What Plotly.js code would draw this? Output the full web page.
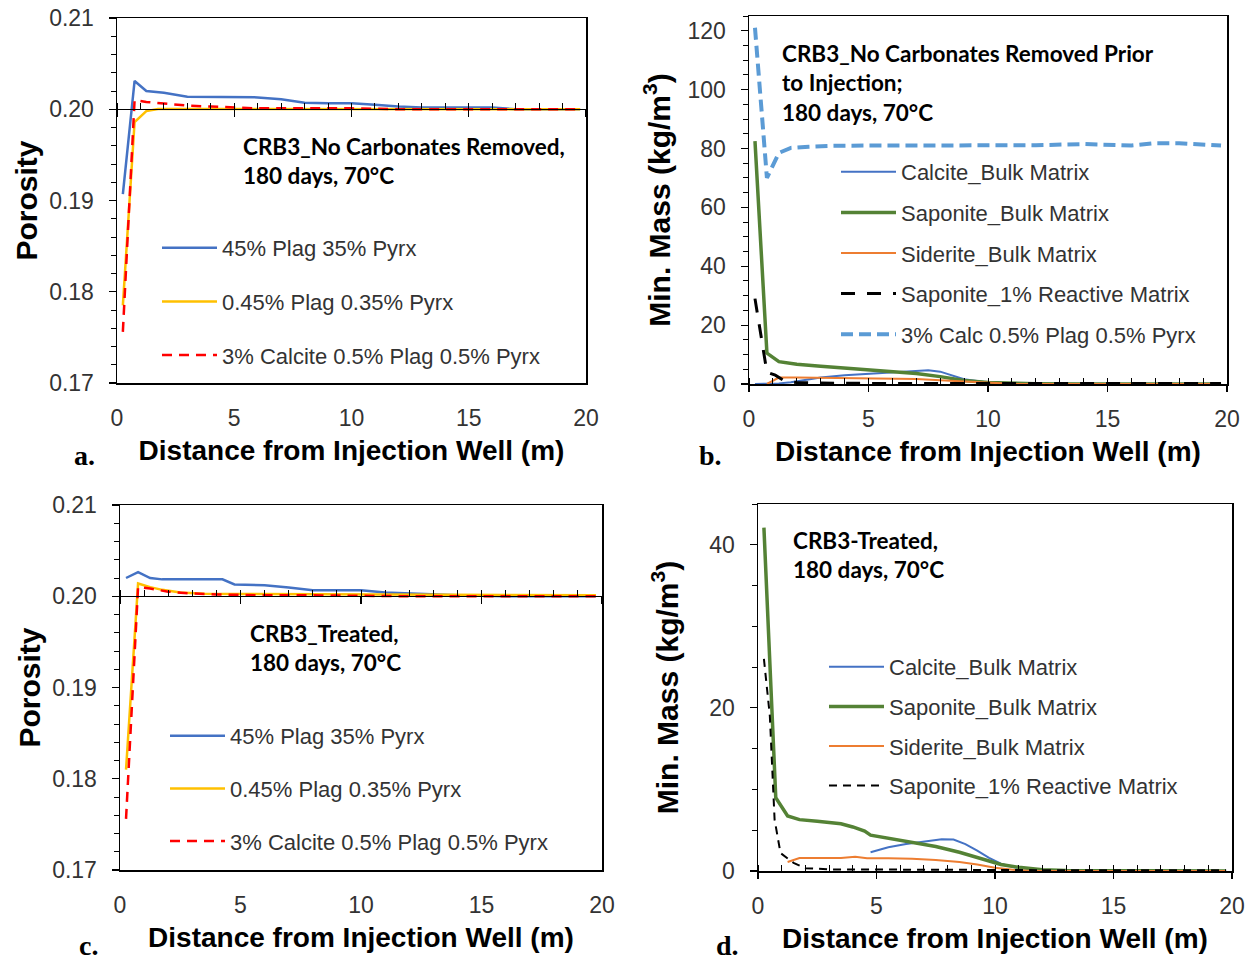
<!DOCTYPE html>
<html>
<head>
<meta charset="utf-8">
<script src="https://cdn.plot.ly/plotly-3.0.1.min.js"></script>
<style>html,body{margin:0;padding:0;background:#fff;}#chart{width:1255px;height:961px;}</style>
</head>
<body>
<div id="chart"></div>
<script>
// ---------- Panel a: porosity, no carbonates removed ----------
const aBlueX   = [0.25, 0.75, 1.25, 2, 3, 4, 5, 6, 7, 8, 9, 10, 11, 12, 13, 14, 15, 16, 17, 18, 19, 19.75];
const aBlueY   = [0.1907, 0.2031, 0.2020, 0.2018, 0.20138, 0.20137, 0.20137, 0.2013, 0.2011, 0.2007, 0.20065, 0.20065, 0.2005, 0.2003, 0.2002, 0.2002, 0.2002, 0.2002, 0.2000, 0.2000, 0.2000, 0.2000];
const aYellowX = [0.25, 0.75, 1.25, 1.75, 2.5, 4, 6, 8, 10, 12, 14, 16, 18, 19.75];
const aYellowY = [0.1785, 0.1986, 0.1998, 0.20002, 0.20003, 0.20002, 0.20001, 0.20001, 0.2000, 0.2000, 0.2000, 0.2000, 0.2000, 0.2000];
const aRedX    = [0.25, 0.75, 1.25, 2, 3, 4, 5, 6, 8, 10, 12, 14, 16, 18, 19.75];
const aRedY    = [0.1756, 0.2010, 0.2008, 0.2006, 0.2004, 0.2003, 0.2002, 0.2001, 0.2001, 0.2001, 0.2000, 0.2000, 0.2000, 0.2000, 0.2000];

// ---------- Panel b: mineral mass, no carbonates removed ----------
const bCalciteX  = [0.25, 0.75, 1.25, 1.75, 2.25, 3, 4, 5, 6, 7, 7.5, 8, 8.5, 9, 10, 11, 12, 14, 16, 18, 19.75];
const bCalciteY  = [0, 0, 0.2, 0.6, 1.2, 2.2, 3.0, 3.5, 4.0, 4.6, 4.7, 4.2, 2.8, 1.6, 0.5, 0.1, 0, 0, 0, 0, 0];
const bSaponiteX = [0.25, 0.75, 1.25, 2, 3, 4, 5, 6, 7, 8, 9, 10, 11, 12, 14, 16, 18, 19.75];
const bSaponiteY = [82.5, 10.5, 7.6, 6.7, 6.0, 5.4, 4.8, 4.2, 3.6, 2.5, 1.2, 0.5, 0.2, 0.1, 0, 0, 0, 0];
const bSideriteX = [0.75, 1.25, 2, 3, 4, 5, 6, 7, 8, 9, 10, 11, 12, 14, 16, 18, 19.75];
const bSideriteY = [0, 2.2, 2.2, 2.1, 2.0, 2.0, 1.9, 1.7, 1.3, 0.8, 0.3, 0.05, 0, 0, 0, 0, 0];
const bSapReactX = [0.25, 0.75, 1.1, 1.5, 2, 3, 5, 8, 12, 16, 19.75];
const bSapReactY = [29, 4, 3, 1.0, 0.5, 0.3, 0.2, 0.2, 0.2, 0.2, 0.2];
const bCalc3X    = [0.25, 0.75, 1.25, 1.75, 2.5, 3.5, 5, 7, 10, 12, 14, 15, 16, 17, 18, 19.75];
const bCalc3Y    = [121, 70, 78.5, 80.2, 80.6, 80.9, 81, 81, 81, 81.1, 81.5, 81.3, 81, 81.8, 81.8, 81];

// ---------- Panel c: porosity, treated ----------
const cBlueX   = [0.25, 0.75, 1.25, 1.75, 2.5, 3.5, 4.25, 4.75, 6, 7, 8, 9, 10, 11, 12, 13, 14, 16, 18, 19.75];
const cBlueY   = [0.2020, 0.20265, 0.2020, 0.20185, 0.20185, 0.20185, 0.20185, 0.2013, 0.2012, 0.20095, 0.20065, 0.20065, 0.20065, 0.2004, 0.2003, 0.2002, 0.2001, 0.2000, 0.2000, 0.2000];
const cYellowX = [0.25, 0.75, 1.25, 1.75, 2.5, 3.5, 5, 8, 12, 16, 19.75];
const cYellowY = [0.1810, 0.2014, 0.2010, 0.2007, 0.2004, 0.20028, 0.20025, 0.20022, 0.2002, 0.2002, 0.2001];
const cRedX    = [0.25, 0.75, 1.25, 2, 3, 4, 6, 8, 12, 16, 19.75];
const cRedY    = [0.1756, 0.2010, 0.20085, 0.2005, 0.2003, 0.2002, 0.2001, 0.2001, 0.2000, 0.2000, 0.2000];

// ---------- Panel d: mineral mass, treated ----------
const dCalciteX  = [4.75, 5.5, 6.25, 7, 7.75, 8.25, 8.75, 9.25, 9.75, 10.25, 10.75, 11.5, 12.5, 13.5, 16, 19.75];
const dCalciteY  = [2.3, 2.9, 3.3, 3.6, 3.9, 3.85, 3.3, 2.5, 1.6, 0.9, 0.5, 0.2, 0.05, 0, 0, 0];
const dSaponiteX = [0.25, 0.75, 1.25, 1.75, 2.5, 3.5, 4.0, 4.5, 4.75, 5.5, 6.5, 7.5, 8.5, 9.5, 10.25, 11, 12, 13, 15, 17, 19.75];
const dSaponiteY = [42.1, 9.0, 6.75, 6.3, 6.1, 5.8, 5.4, 4.9, 4.4, 4.0, 3.5, 3.0, 2.3, 1.4, 0.8, 0.45, 0.15, 0.05, 0.02, 0, 0];
const dSideriteX = [1.25, 1.75, 2.5, 3.5, 4.1, 4.6, 5.5, 6.5, 7.5, 8.5, 9.25, 10, 10.75, 11.5, 13, 16, 19.75];
const dSideriteY = [1.1, 1.6, 1.6, 1.6, 1.75, 1.55, 1.55, 1.5, 1.35, 1.1, 0.8, 0.4, 0.15, 0, 0, 0, 0];
const dSapReactX = [0.25, 0.5, 0.7, 0.95, 1.5, 2.0, 3, 5, 8, 12, 16, 19.75];
const dSapReactY = [26, 19, 6.3, 2.2, 1.0, 0.35, 0.2, 0.2, 0.15, 0.1, 0.1, 0.1];

// ---------- Labels ----------
const porosityNames = ['45% Plag 35% Pyrx', '0.45% Plag 0.35% Pyrx', '3% Calcite 0.5% Plag 0.5% Pyrx'];
const massNames = ['Calcite_Bulk Matrix', 'Saponite_Bulk Matrix', 'Siderite_Bulk Matrix', 'Saponite_1% Reactive Matrix', '3% Calc 0.5% Plag 0.5% Pyrx'];
const xTitle = 'Distance from Injection Well (m)';
const porTitle = 'Porosity';
const massTitle = 'Min. Mass (kg/m<sup>3</sup>)';
const noteA = 'CRB3_No Carbonates Removed,<br>180 days, 70°C';
const noteB = 'CRB3_No Carbonates Removed Prior<br>to Injection;<br>180 days, 70°C';
const noteC = 'CRB3_Treated,<br>180 days, 70°C';
const noteD = 'CRB3-Treated,<br>180 days, 70°C';
const panelLetters = ['a.', 'b.', 'c.', 'd.'];
const porRange = [0.17, 0.21];
const massRangeB = [0, 125];
const massRangeD = [0, 45];
const xRange = [0, 20];

// ---------- Layout helpers (pixel -> paper) ----------
const W = 1255, H = 961;
const fx = p => p / W;
const fy = p => 1 - p / H;
const dom = {
  a: {x: [fx(117), fx(586)], y: [fy(383), fy(18)]},
  b: {x: [fx(749), fx(1227)], y: [fy(384), fy(16)]},
  c: {x: [fx(120), fx(602)], y: [fy(870), fy(505)]},
  d: {x: [fx(758), fx(1232)], y: [fy(871), fy(504)]}
};

const C = {blue: '#4472C4', yellow: '#FFC000', red: '#FF0000', green: '#548235', orange: '#ED7D31', lblue: '#5B9BD5', black: '#000000'};

function ln(x, y, name, color, width, dash, xa, ya, legend, grp) {
  return {x: x, y: y, name: name, type: 'scatter', mode: 'lines', xaxis: xa, yaxis: ya,
    line: {color: color, width: width, dash: dash || 'solid'}, legend: legend, legendgroup: grp, hoverinfo: 'x+y+name'};
}

const traces = [
  ln(aBlueX, aBlueY, porosityNames[0], C.blue, 2.5, 'solid', 'x', 'y', 'legend', 'a1'),
  ln(aYellowX, aYellowY, porosityNames[1], C.yellow, 2.5, 'solid', 'x', 'y', 'legend', 'a2'),
  ln(aRedX, aRedY, porosityNames[2], C.red, 2.5, '10px,7px', 'x', 'y', 'legend', 'a3'),

  ln(bCalciteX, bCalciteY, massNames[0], C.blue, 2, 'solid', 'x2', 'y2', 'legend2', 'b1'),
  ln(bSaponiteX, bSaponiteY, massNames[1], C.green, 3.5, 'solid', 'x2', 'y2', 'legend2', 'b2'),
  ln(bSideriteX, bSideriteY, massNames[2], C.orange, 2, 'solid', 'x2', 'y2', 'legend2', 'b3'),
  ln(bSapReactX, bSapReactY, massNames[3], C.black, 3, '14px,12px', 'x2', 'y2', 'legend2', 'b4'),
  ln(bCalc3X, bCalc3Y, massNames[4], C.lblue, 4, '12px,6px', 'x2', 'y2', 'legend2', 'b5'),

  ln(cBlueX, cBlueY, porosityNames[0], C.blue, 2.5, 'solid', 'x3', 'y3', 'legend3', 'c1'),
  ln(cYellowX, cYellowY, porosityNames[1], C.yellow, 2.5, 'solid', 'x3', 'y3', 'legend3', 'c2'),
  ln(cRedX, cRedY, porosityNames[2], C.red, 2.5, '10px,7px', 'x3', 'y3', 'legend3', 'c3'),

  ln(dCalciteX, dCalciteY, massNames[0], C.blue, 2, 'solid', 'x4', 'y4', 'legend4', 'd1'),
  ln(dSaponiteX, dSaponiteY, massNames[1], C.green, 3.5, 'solid', 'x4', 'y4', 'legend4', 'd2'),
  ln(dSideriteX, dSideriteY, massNames[2], C.orange, 2, 'solid', 'x4', 'y4', 'legend4', 'd3'),
  ln(dSapReactX, dSapReactY, massNames[3], C.black, 2, '8px,6px', 'x4', 'y4', 'legend4', 'd4'),

  // empty carriers for the axes drawn at porosity = 0.20
  {x: [], y: [], type: 'scatter', mode: 'lines', xaxis: 'x5', yaxis: 'y', showlegend: false, hoverinfo: 'skip'},
  {x: [], y: [], type: 'scatter', mode: 'lines', xaxis: 'x6', yaxis: 'y3', showlegend: false, hoverinfo: 'skip'}
];

const tickFont = {family: 'Liberation Sans, Arial, sans-serif', size: 23, color: '#333333'};
const xTitleFont = {family: 'Liberation Sans, Arial, sans-serif', size: 28, color: '#000000', weight: 'bold'};
const yTitleFont = {family: 'Liberation Sans, Arial, sans-serif', size: 30, color: '#000000', weight: 'bold'};
const legFont = {family: 'Liberation Sans, Arial, sans-serif', size: 22, color: '#333333'};
const noteFont = {family: 'Lato, Open Sans, sans-serif', size: 22.5, color: '#000000', weight: 'bold'};
const letterFont = {family: 'Liberation Serif, DejaVu Serif, serif', size: 28, color: '#000000', weight: 'bold'};

function xLabelAxis(d, anchor, withTicks) {
  const ax = {domain: d.x, anchor: anchor, range: xRange, dtick: 5, tick0: 0,
    showline: true, linecolor: '#000', linewidth: 1.5, mirror: true, showgrid: false, zeroline: false,
    tickfont: tickFont, title: {text: xTitle, font: xTitleFont, standoff: 10},
    ticklabelstandoff: 14};
  if (withTicks) {
    ax.ticks = 'outside'; ax.ticklen = 6; ax.tickcolor = '#000'; ax.tickwidth = 1.2;
    ax.minor = {dtick: 1, ticks: 'inside', ticklen: 6, tickcolor: '#000', tickwidth: 1};
    ax.ticklabelstandoff = 8;
  } else {
    ax.ticks = '';
  }
  return ax;
}
function yAxis(d, anchor, range, dtick, mdtick, fmt, title, standoff) {
  return {domain: d.y, anchor: anchor, range: range, dtick: dtick, tick0: 0, tickformat: fmt,
    showline: true, linecolor: '#000', linewidth: 1.5, mirror: true, showgrid: false, zeroline: false,
    ticks: 'outside', ticklen: 7, tickcolor: '#000', tickwidth: 1.2,
    minor: {dtick: mdtick, ticks: 'outside', ticklen: 5, tickcolor: '#000', tickwidth: 1},
    tickfont: tickFont, ticklabelstandoff: 10,
    title: {text: title, font: yTitleFont, standoff: standoff}};
}
function midAxis(d, overlay, level, range) {
  const pos = d.y[0] + (level - range[0]) / (range[1] - range[0]) * (d.y[1] - d.y[0]);
  return {domain: d.x, overlaying: overlay, anchor: 'free', position: pos, range: xRange,
    dtick: 5, tick0: 0, showticklabels: false, showgrid: false, zeroline: false,
    showline: true, linecolor: '#000', linewidth: 1.2,
    ticks: 'outside', ticklen: 7, tickcolor: '#000', tickwidth: 1.2,
    minor: {dtick: 1, ticks: 'inside', ticklen: 6, tickcolor: '#000', tickwidth: 1}};
}

function legendAt(px, py, gap) {
  return {x: fx(px), y: fy(py), xanchor: 'left', yanchor: 'top', bgcolor: 'rgba(0,0,0,0)',
    borderwidth: 0, font: legFont, traceorder: 'grouped', tracegroupgap: gap, itemwidth: 55};
}
function note(text, px, py) {
  return {text: text, x: fx(px), y: fy(py), xref: 'paper', yref: 'paper', xanchor: 'left', yanchor: 'top',
    align: 'left', showarrow: false, font: noteFont};
}
function letter(text, px, py) {
  return {text: text, x: fx(px), y: fy(py), xref: 'paper', yref: 'paper', xanchor: 'center', yanchor: 'middle',
    showarrow: false, font: letterFont};
}

const layout = {
  width: W, height: H, margin: {l: 0, r: 0, t: 0, b: 0},
  paper_bgcolor: '#fff', plot_bgcolor: '#fff', showlegend: true,
  xaxis: xLabelAxis(dom.a, 'y', false),
  yaxis: yAxis(dom.a, 'x', porRange, 0.01, 0.002, '.2f', porTitle, 2),
  xaxis2: xLabelAxis(dom.b, 'y2', true),
  yaxis2: yAxis(dom.b, 'x2', massRangeB, 20, 5, 'd', massTitle, 8),
  xaxis3: xLabelAxis(dom.c, 'y3', false),
  yaxis3: yAxis(dom.c, 'x3', porRange, 0.01, 0.002, '.2f', porTitle, 2),
  xaxis4: xLabelAxis(dom.d, 'y4', true),
  yaxis4: yAxis(dom.d, 'x4', massRangeD, 20, 5, 'd', massTitle, 22),
  xaxis5: midAxis(dom.a, 'x', 0.20, porRange),
  xaxis6: midAxis(dom.c, 'x3', 0.20, porRange),
  legend: legendAt(157, 227, 22),
  legend2: legendAt(836, 151, 9),
  legend3: legendAt(165, 715, 21),
  legend4: legendAt(824, 646, 8),
  annotations: [
    note(noteA, 241, 131), note(noteB, 780, 38), note(noteC, 248, 618), note(noteD, 791, 525),
    letter(panelLetters[0], 84, 455), letter(panelLetters[1], 710, 456),
    letter(panelLetters[2], 88, 945), letter(panelLetters[3], 727, 945)
  ]
};

Plotly.newPlot('chart', traces, layout, {displayModeBar: false, staticPlot: true});
</script>
</body>
</html>
